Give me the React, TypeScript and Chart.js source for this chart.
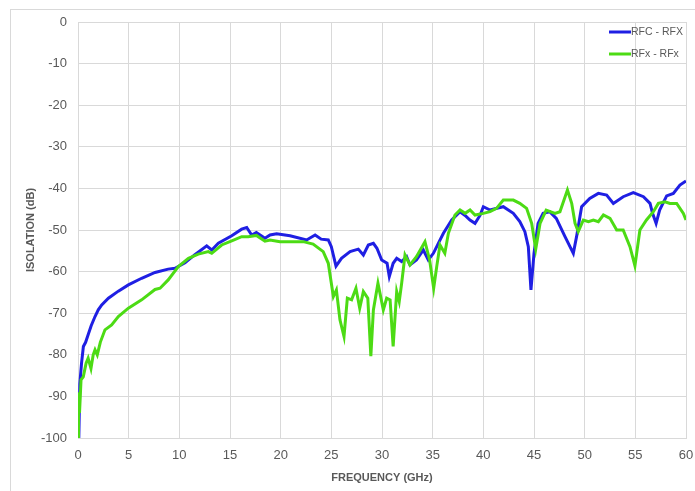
import React, { useEffect, useRef } from "react";
import { Chart, registerables } from "chart.js";

Chart.register(...registerables);

const seriesLabels = ["RFC - RFX", "RFx - RFx"];
const seriesColors = ["#1f1fe3", "#4cdb14"];

const xTicks = [0, 5, 10, 15, 20, 25, 30, 35, 40, 45, 50, 55, 60];
const yTicks = [0, -10, -20, -30, -40, -50, -60, -70, -80, -90, -100];

const blueFreq = [
  0.02, 0.08, 0.18, 0.35, 0.53, 0.75, 1.0, 1.3, 1.68, 2.0, 2.34, 3.0, 3.98, 4.97, 6.28, 7.6, 8.9, 9.57,
  10.56, 11.5, 12.7, 13.2, 13.85, 15.17, 16.15, 16.65, 17.14, 17.6, 18.45, 18.95, 19.6, 20.92, 22.56,
  23.4, 24.0, 24.7, 25.0, 25.46, 26.0, 26.85, 27.66, 28.16, 28.65, 29.15, 29.5, 29.97, 30.5, 30.72,
  31.1, 31.45, 31.94, 32.43, 32.76, 33.4, 34.08, 34.57, 35.07, 35.56, 36.06, 36.88, 37.7, 38.2, 38.68,
  39.18, 39.67, 40.0, 40.66, 41.97, 42.96, 43.6, 44.1, 44.44, 44.7, 45.0, 45.4, 45.9, 46.55, 47.2,
  48.06, 48.55, 48.88, 49.2, 49.7, 50.5, 51.35, 52.17, 52.83, 53.8, 54.8, 55.8, 56.45, 56.7, 57.05,
  57.4, 58.09, 58.75, 59.4, 60.0,
];
const blueIso = [
  -89, -100, -87, -82, -78, -77, -75.2, -73, -70.8, -69.2, -68, -66.4, -64.7, -63.2, -61.6, -60.2, -59.4, -59.2,
  -57.9, -56, -53.8, -54.8, -53.2, -51.4, -49.8, -49.4, -51.2, -50.6, -52, -51.2, -50.9, -51.4, -52.4,
  -51.2, -52.2, -52.4, -54, -58.7, -56.8, -55.2, -54.6, -56, -53.6, -53.2, -54.4, -57.2, -58, -61.2,
  -58, -56.8, -57.6, -56.4, -58.4, -57.2, -54.8, -57.2, -55.6, -53.2, -50.8, -47.6, -45.6, -46.5, -47.6,
  -48.4, -46.5, -44.4, -45.2, -44.4, -46, -48, -50.4, -54, -64.4, -55.6, -48.4, -46, -45.6, -47.2,
  -51.6, -54, -55.6, -51.6, -44.4, -42.4, -41.2, -41.6, -43.6, -42, -41, -42, -43.6, -46, -48.4,
  -45.2, -41.8, -41.2, -39.2, -38.2,
];

const greenFreq = [
  0.0, 0.05, 0.15, 0.3, 0.52, 0.8, 1.0, 1.28, 1.5, 1.68, 1.9, 2.2, 2.66, 3.32, 3.98, 4.97, 6.28, 7.6,
  8.1, 8.9, 9.9, 10.9, 11.87, 12.86, 13.2, 14.18, 15.17, 16.15, 16.8, 17.6, 18.45, 18.95, 19.93, 22.23,
  23.2, 24.2, 24.7, 25.0, 25.2, 25.5, 25.85, 26.25, 26.58, 27.0, 27.43, 27.8, 28.16, 28.6, 28.9, 29.15,
  29.6, 30.13, 30.46, 30.8, 31.1, 31.45, 31.7, 31.94, 32.27, 32.76, 33.4, 34.24, 34.7, 35.1, 35.4,
  35.72, 36.2, 36.55, 37.2, 37.7, 38.2, 38.69, 39.18, 40.0, 40.66, 41.3, 41.97, 42.96, 43.6, 44.27,
  44.77, 45.17, 45.6, 46.2, 47.07, 47.56, 48.3, 48.72, 49.05, 49.37, 49.87, 50.37, 50.86, 51.35,
  51.85, 52.5, 53.16, 53.8, 54.47, 54.96, 55.45, 56.1, 56.78, 57.27, 57.92, 58.42, 59.08, 59.74, 60.0,
];
const greenIso = [
  -100, -89, -94, -86, -85.3, -82, -80.8, -83.3, -80, -78.8, -80, -77, -74, -72.8, -70.8, -68.8, -66.8, -64.3,
  -64, -62, -58.8, -56.8, -55.8, -55.2, -55.6, -53.6, -52.6, -51.6, -51.6, -51.3, -52.7, -52.4, -52.8, -52.8,
  -53.4, -55.2, -58, -62.8, -66, -64.4, -71.6, -75.6, -66.4, -66.8, -64, -68.8, -64.8, -66.4, -80.3, -69.2,
  -62.8, -69.2, -66.4, -66.8, -78, -64.8, -67.2, -62.8, -56, -58.4, -56.4, -52.8, -57.2, -64, -58.8,
  -53.6, -55.6, -50.8, -46.4, -45.2, -46, -45.2, -46.4, -46, -45.6, -44.8, -42.8, -42.8, -43.6, -44.8,
  -48.4, -54.6, -48.4, -45.2, -46, -45.6, -40.4, -43.6, -48.4, -50.4, -47.6, -48, -47.6, -48,
  -46.4, -47.2, -50, -50, -54, -58.6, -50, -47.6, -45.6, -43.6, -43.2, -43.6, -43.6, -46, -47.6,
];

const xTitle = "FREQUENCY (GHz)";
const yTitle = "ISOLATION (dB)";

const GRID = "#d9d9d9";
const TEXT = "#595959";

const framePlugin = {
  id: "frame",
  beforeDraw(chart: any) {
    const ctx = chart.ctx;
    ctx.save();
    ctx.strokeStyle = GRID;
    ctx.lineWidth = 1;
    ctx.strokeRect(10.5, 9.5, 720, 520);
    ctx.restore();
  },
};

const legendPlugin = {
  id: "insideLegend",
  afterDraw(chart: any) {
    const ctx = chart.ctx;
    const area = chart.chartArea;
    ctx.save();
    ctx.font = "10.5px 'Liberation Sans', Arial, sans-serif";
    ctx.textBaseline = "middle";
    ctx.textAlign = "left";
    chart.data.datasets.forEach((ds: any, i: number) => {
      const y = area.top + 10 + i * 22;
      const x0 = area.right - 77;
      ctx.strokeStyle = ds.borderColor;
      ctx.lineWidth = 3;
      ctx.beginPath();
      ctx.moveTo(x0, y);
      ctx.lineTo(x0 + 22, y);
      ctx.stroke();
      ctx.fillStyle = TEXT;
      ctx.fillText(ds.label, x0 + 22, y);
    });
    ctx.restore();
  },
};

export default function App() {
  const ref = useRef<HTMLCanvasElement | null>(null);

  useEffect(() => {
    if (!ref.current) return;
    const mk = (xs: number[], ys: number[]) => xs.map((x, i) => ({ x, y: ys[i] }));
    const chart = new Chart(ref.current, {
      type: "line",
      data: {
        datasets: [
          {
            label: seriesLabels[0],
            data: mk(blueFreq, blueIso),
            borderColor: seriesColors[0],
            backgroundColor: seriesColors[0],
            borderWidth: 3,
            pointRadius: 0,
            tension: 0,
            order: 1,
          },
          {
            label: seriesLabels[1],
            data: mk(greenFreq, greenIso),
            borderColor: seriesColors[1],
            backgroundColor: seriesColors[1],
            borderWidth: 3,
            pointRadius: 0,
            tension: 0,
            order: 0,
          },
        ],
      },
      options: {
        animation: false,
        responsive: true,
        maintainAspectRatio: false,
        layout: { autoPadding: false, padding: { top: 22, right: 9, bottom: 0, left: 0 } },
        plugins: {
          legend: { display: false },
          tooltip: { enabled: false },
        },
        scales: {
          x: {
            type: "linear",
            min: 0,
            max: 60,
            afterBuildTicks: (s: any) => {
              s.ticks = xTicks.map((v) => ({ value: v }));
            },
            afterFit: (s: any) => {
              s.height = 53;
              s.paddingLeft = 0;
              s.paddingRight = 0;
            },
            grid: { color: GRID, drawTicks: false },
            border: { color: GRID },
            ticks: {
              color: TEXT,
              font: { family: "'Liberation Sans', Arial, sans-serif", size: 13 },
              padding: 10,
              maxRotation: 0,
              autoSkip: false,
            },
            title: {
              display: true,
              text: xTitle,
              color: TEXT,
              font: { family: "'Liberation Sans', Arial, sans-serif", size: 11, weight: "bold" },
              padding: { top: 0, bottom: 6 },
            },
          },
          y: {
            type: "linear",
            min: -100,
            max: 0,
            afterBuildTicks: (s: any) => {
              s.ticks = yTicks.map((v) => ({ value: v }));
            },
            afterFit: (s: any) => {
              s.width = 78;
            },
            grid: { color: GRID, drawTicks: false },
            border: { color: GRID },
            ticks: {
              color: TEXT,
              font: { family: "'Liberation Sans', Arial, sans-serif", size: 13 },
              padding: 11,
              autoSkip: false,
            },
            title: {
              display: true,
              text: yTitle,
              color: TEXT,
              font: { family: "'Liberation Sans', Arial, sans-serif", size: 11, weight: "bold" },
              padding: { top: 24, bottom: 0 },
            },
          },
        },
      },
      plugins: [framePlugin, legendPlugin],
    } as any);
    return () => chart.destroy();
  }, []);

  return (
    <div style={{ position: "absolute", left: 0, top: 0, width: 695, height: 491, background: "#fff" }}>
      <canvas ref={ref} />
    </div>
  );
}
